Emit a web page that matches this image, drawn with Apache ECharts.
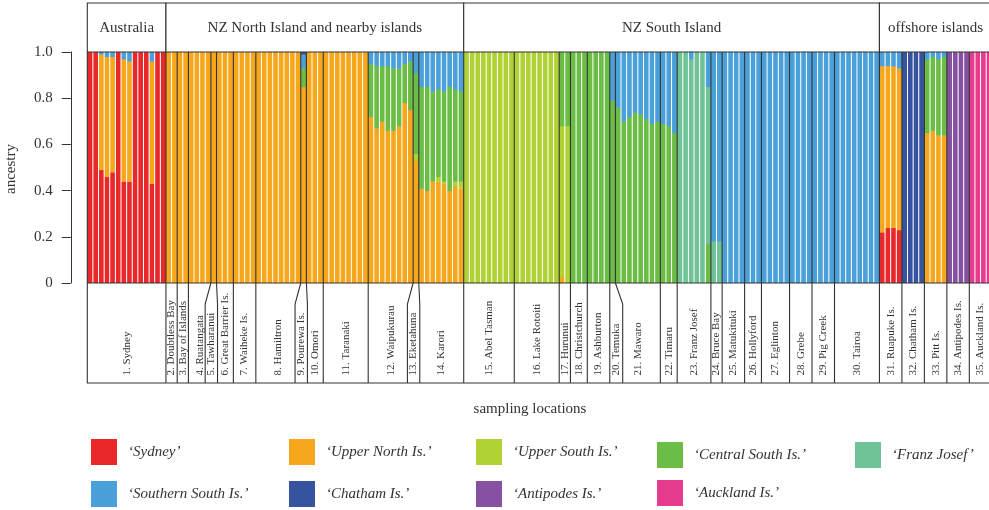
<!DOCTYPE html>
<html><head><meta charset="utf-8">
<script src="https://cdn.jsdelivr.net/npm/echarts@6/dist/echarts.min.js"></script>
<style>html,body{margin:0;padding:0;background:#fff}#chart{width:989px;height:510px}</style>
</head><body><div id="chart"></div>
<script>
// ---------------- data ----------------
const clusters = ['Sydney', 'Upper North Is.', 'Upper South Is.', 'Central South Is.', 'Franz Josef',
  'Southern South Is.', 'Chatham Is.', 'Antipodes Is.', 'Auckland Is.'];

const regions = ['Australia', 'NZ North Island and nearby islands', 'NZ South Island', 'offshore islands'];
const regionPopCounts = [1, 13, 16, 5];

const populations = ['1. Sydney', '2. Doubtless Bay', '3. Bay of Islands', '4. Ruatangata', '5. Tawharanui',
  '6. Great Barrier Is.', '7. Waiheke Is.', '8. Hamiltron', '9. Pourewa Is.', '10. Omori', '11. Taranaki',
  '12. Waipukurau', '13. Eketahuna', '14. Karori', '15. Abel Tasman', '16. Lake Rotoiti', '17. Hurunui',
  '18. Christchurch', '19. Ashburton', '20. Temuka', '21. Mawaro', '22. Timaru', '23. Franz Josef',
  '24. Bruce Bay', '25. Matukituki', '26. Hollyford', '27. Eglinton', '28. Grebe', '29. Pig Creek',
  '30. Tairoa', '31. Ruapuke Is.', '32. Chatham Is.', '33. Pitt Is.', '34. Antipodes Is.', '35. Auckland Is.'];
const popSizes = [14, 2, 2, 4, 1, 3, 4, 8, 1, 3, 8, 8, 1, 8, 9, 8, 2, 3, 4, 1, 8, 3, 6, 2, 4, 3, 5, 4, 4, 8, 4, 4, 4, 4, 4];

// ancestry proportion of every individual, one array per cluster (individuals in population order)
const qSydney = [
  1, 1, .49, .46, .48, 1, .44, .44, 1, 1, 1, .43, 1, 1,                         // 1
  0, 0, 0, 0, 0, 0, 0, 0, 0, 0, 0, 0, 0, 0, 0, 0, 0, 0, 0, 0, 0, 0, 0, 0,       // 2-8
  0,                                                                            // 9
  0, 0, 0, 0, 0, 0, 0, 0, 0, 0, 0,                                              // 10-11
  0, 0, 0, 0, 0, 0, 0, 0,                                                       // 12
  0,                                                                            // 13
  0, 0, 0, 0, 0, 0, 0, 0,                                                       // 14
  0, 0, 0, 0, 0, 0, 0, 0, 0, 0, 0, 0, 0, 0, 0, 0, 0,                            // 15-16
  0, 0,                                                                         // 17
  0, 0, 0, 0, 0, 0, 0,                                                          // 18-19
  0,                                                                            // 20
  0, 0, 0, 0, 0, 0, 0, 0,                                                       // 21
  0, 0, 0,                                                                      // 22
  0, 0, 0, 0, 0, 0,                                                             // 23
  0, 0,                                                                         // 24
  0, 0, 0, 0, 0, 0, 0, 0, 0, 0, 0, 0, 0, 0, 0, 0, 0, 0, 0, 0, 0, 0, 0, 0, 0, 0, 0, 0, // 25-30
  .22, .24, .24, .23,                                                           // 31
  0, 0, 0, 0,                                                                   // 32
  0, 0, 0, 0,                                                                   // 33
  0, 0, 0, 0,                                                                   // 34
  0, 0, 0, 0                                                                    // 35
];
const qUpperNorth = [
  0, 0, .50, .52, .50, 0, .53, .52, 0, 0, 0, .53, 0, 0,                         // 1
  1, 1, 1, 1, 1, 1, 1, 1, 1, 1, 1, 1, 1, 1, 1, 1, 1, 1, 1, 1, 1, 1, 1, 1,       // 2-8
  .85,                                                                          // 9
  1, 1, 1, 1, 1, 1, 1, 1, 1, 1, 1,                                              // 10-11
  .72, .67, .70, .66, .66, .68, .78, .75,                                       // 12
  .53,                                                                          // 13
  .41, .40, .44, .44, .43, .40, .42, .41,                                       // 14
  0, 0, 0, 0, 0, 0, 0, 0, 0, 0, 0, 0, 0, 0, 0, 0, 0,                            // 15-16
  .03, 0,                                                                       // 17
  0, 0, 0, 0, 0, 0, 0,                                                          // 18-19
  0,                                                                            // 20
  0, 0, 0, 0, 0, 0, 0, 0,                                                       // 21
  0, 0, 0,                                                                      // 22
  0, 0, 0, 0, 0, 0,                                                             // 23
  0, 0,                                                                         // 24
  0, 0, 0, 0, 0, 0, 0, 0, 0, 0, 0, 0, 0, 0, 0, 0, 0, 0, 0, 0, 0, 0, 0, 0, 0, 0, 0, 0, // 25-30
  .72, .70, .70, .70,                                                           // 31
  0, 0, 0, 0,                                                                   // 32
  .65, .66, .64, .64,                                                           // 33
  0, 0, 0, 0,                                                                   // 34
  0, 0, 0, 0                                                                    // 35
];
const qUpperSouth = [
  0, 0, 0, 0, 0, 0, 0, 0, 0, 0, 0, 0, 0, 0,                                     // 1
  0, 0, 0, 0, 0, 0, 0, 0, 0, 0, 0, 0, 0, 0, 0, 0, 0, 0, 0, 0, 0, 0, 0, 0,       // 2-8
  0,                                                                            // 9
  0, 0, 0, 0, 0, 0, 0, 0, 0, 0, 0,                                              // 10-11
  0, 0, 0, 0, 0, 0, 0, 0,                                                       // 12
  .03,                                                                          // 13
  0, 0, 0, .02, .01, 0, .02, .03,                                               // 14
  1, 1, 1, 1, 1, 1, 1, 1, 1, 1, 1, 1, 1, 1, 1, 1, 1,                            // 15-16
  .65, .68,                                                                     // 17
  0, 0, 0, 0, 0, 0, 0,                                                          // 18-19
  0,                                                                            // 20
  0, 0, 0, 0, 0, 0, 0, 0,                                                       // 21
  0, 0, 0,                                                                      // 22
  0, 0, 0, 0, 0, 0,                                                             // 23
  0, 0,                                                                         // 24
  0, 0, 0, 0, 0, 0, 0, 0, 0, 0, 0, 0, 0, 0, 0, 0, 0, 0, 0, 0, 0, 0, 0, 0, 0, 0, 0, 0, // 25-30
  0, 0, 0, 0,                                                                   // 31
  0, 0, 0, 0,                                                                   // 32
  0, 0, 0, 0,                                                                   // 33
  0, 0, 0, 0,                                                                   // 34
  0, 0, 0, 0                                                                    // 35
];
const qCentralSouth = [
  0, 0, 0, 0, 0, 0, 0, 0, 0, 0, 0, 0, 0, 0,                                     // 1
  0, 0, 0, 0, 0, 0, 0, 0, 0, 0, 0, 0, 0, 0, 0, 0, 0, 0, 0, 0, 0, 0, 0, 0,       // 2-8
  .08,                                                                          // 9
  0, 0, 0, 0, 0, 0, 0, 0, 0, 0, 0,                                              // 10-11
  .23, .27, .24, .28, .27, .25, .17, .21,                                       // 12
  .35,                                                                          // 13
  .44, .45, .39, .38, .39, .45, .40, .39,                                       // 14
  0, 0, 0, 0, 0, 0, 0, 0, 0, 0, 0, 0, 0, 0, 0, 0, 0,                            // 15-16
  .32, .32,                                                                     // 17
  1, 1, 1, 1, 1, 1, 1,                                                          // 18-19
  .79,                                                                          // 20
  .76, .70, .72, .74, .73, .71, .69, .70,                                       // 21
  .69, .68, .65,                                                                // 22
  0, 0, 0, 0, 0, .17,                                                           // 23
  0, 0,                                                                         // 24
  0, 0, 0, 0, 0, 0, 0, 0, 0, 0, 0, 0, 0, 0, 0, 0, 0, 0, 0, 0, 0, 0, 0, 0, 0, 0, 0, 0, // 25-30
  0, 0, 0, 0,                                                                   // 31
  0, 0, 0, 0,                                                                   // 32
  .32, .32, .33, .34,                                                           // 33
  0, 0, 0, 0,                                                                   // 34
  0, 0, 0, 0                                                                    // 35
];
const qFranzJosef = [
  0, 0, 0, 0, 0, 0, 0, 0, 0, 0, 0, 0, 0, 0,                                     // 1
  0, 0, 0, 0, 0, 0, 0, 0, 0, 0, 0, 0, 0, 0, 0, 0, 0, 0, 0, 0, 0, 0, 0, 0,       // 2-8
  0,                                                                            // 9
  0, 0, 0, 0, 0, 0, 0, 0, 0, 0, 0,                                              // 10-11
  0, 0, 0, 0, 0, 0, 0, 0,                                                       // 12
  0,                                                                            // 13
  0, 0, 0, 0, 0, 0, 0, 0,                                                       // 14
  0, 0, 0, 0, 0, 0, 0, 0, 0, 0, 0, 0, 0, 0, 0, 0, 0,                            // 15-16
  0, 0,                                                                         // 17
  0, 0, 0, 0, 0, 0, 0,                                                          // 18-19
  0,                                                                            // 20
  0, 0, 0, 0, 0, 0, 0, 0,                                                       // 21
  0, 0, 0,                                                                      // 22
  1, 1, .97, 1, 1, .68,                                                         // 23
  .18, .18,                                                                     // 24
  0, 0, 0, 0, 0, 0, 0, 0, 0, 0, 0, 0, 0, 0, 0, 0, 0, 0, 0, 0, 0, 0, 0, 0, 0, 0, 0, 0, // 25-30
  0, 0, 0, 0,                                                                   // 31
  0, 0, 0, 0,                                                                   // 32
  0, 0, 0, 0,                                                                   // 33
  0, 0, 0, 0,                                                                   // 34
  0, 0, 0, 0                                                                    // 35
];
const qSouthernSouth = [
  0, 0, .01, .02, .02, 0, .03, .04, 0, 0, 0, .04, 0, 0,                         // 1
  0, 0, 0, 0, 0, 0, 0, 0, 0, 0, 0, 0, 0, 0, 0, 0, 0, 0, 0, 0, 0, 0, 0, 0,       // 2-8
  .06,                                                                          // 9
  0, 0, 0, 0, 0, 0, 0, 0, 0, 0, 0,                                              // 10-11
  .05, .06, .06, .06, .07, .07, .05, .04,                                       // 12
  .09,                                                                          // 13
  .15, .15, .17, .16, .17, .15, .16, .17,                                       // 14
  0, 0, 0, 0, 0, 0, 0, 0, 0, 0, 0, 0, 0, 0, 0, 0, 0,                            // 15-16
  0, 0,                                                                         // 17
  0, 0, 0, 0, 0, 0, 0,                                                          // 18-19
  .21,                                                                          // 20
  .24, .30, .28, .26, .27, .29, .31, .30,                                       // 21
  .31, .32, .35,                                                                // 22
  0, 0, .03, 0, 0, .15,                                                         // 23
  .82, .82,                                                                     // 24
  1, 1, 1, 1, 1, 1, 1, 1, 1, 1, 1, 1, 1, 1, 1, 1, 1, 1, 1, 1, 1, 1, 1, 1, 1, 1, 1, 1, // 25-30
  .06, .06, .06, .07,                                                           // 31
  0, 0, 0, 0,                                                                   // 32
  .03, .02, .03, .02,                                                           // 33
  0, 0, 0, 0,                                                                   // 34
  0, 0, 0, 0                                                                    // 35
];
const qChatham = [
  0, 0, 0, 0, 0, 0, 0, 0, 0, 0, 0, 0, 0, 0,                                     // 1
  0, 0, 0, 0, 0, 0, 0, 0, 0, 0, 0, 0, 0, 0, 0, 0, 0, 0, 0, 0, 0, 0, 0, 0,       // 2-8
  .01,                                                                          // 9
  0, 0, 0, 0, 0, 0, 0, 0, 0, 0, 0,                                              // 10-11
  0, 0, 0, 0, 0, 0, 0, 0,                                                       // 12
  0,                                                                            // 13
  0, 0, 0, 0, 0, 0, 0, 0,                                                       // 14
  0, 0, 0, 0, 0, 0, 0, 0, 0, 0, 0, 0, 0, 0, 0, 0, 0,                            // 15-16
  0, 0,                                                                         // 17
  0, 0, 0, 0, 0, 0, 0,                                                          // 18-19
  0,                                                                            // 20
  0, 0, 0, 0, 0, 0, 0, 0,                                                       // 21
  0, 0, 0,                                                                      // 22
  0, 0, 0, 0, 0, 0,                                                             // 23
  0, 0,                                                                         // 24
  0, 0, 0, 0, 0, 0, 0, 0, 0, 0, 0, 0, 0, 0, 0, 0, 0, 0, 0, 0, 0, 0, 0, 0, 0, 0, 0, 0, // 25-30
  0, 0, 0, 0,                                                                   // 31
  1, 1, 1, 1,                                                                   // 32
  0, 0, 0, 0,                                                                   // 33
  0, 0, 0, 0,                                                                   // 34
  0, 0, 0, 0                                                                    // 35
];
const qAntipodes = [
  0, 0, 0, 0, 0, 0, 0, 0, 0, 0, 0, 0, 0, 0,                                     // 1
  0, 0, 0, 0, 0, 0, 0, 0, 0, 0, 0, 0, 0, 0, 0, 0, 0, 0, 0, 0, 0, 0, 0, 0,       // 2-8
  0,                                                                            // 9
  0, 0, 0, 0, 0, 0, 0, 0, 0, 0, 0,                                              // 10-11
  0, 0, 0, 0, 0, 0, 0, 0,                                                       // 12
  0,                                                                            // 13
  0, 0, 0, 0, 0, 0, 0, 0,                                                       // 14
  0, 0, 0, 0, 0, 0, 0, 0, 0, 0, 0, 0, 0, 0, 0, 0, 0,                            // 15-16
  0, 0,                                                                         // 17
  0, 0, 0, 0, 0, 0, 0,                                                          // 18-19
  0,                                                                            // 20
  0, 0, 0, 0, 0, 0, 0, 0,                                                       // 21
  0, 0, 0,                                                                      // 22
  0, 0, 0, 0, 0, 0,                                                             // 23
  0, 0,                                                                         // 24
  0, 0, 0, 0, 0, 0, 0, 0, 0, 0, 0, 0, 0, 0, 0, 0, 0, 0, 0, 0, 0, 0, 0, 0, 0, 0, 0, 0, // 25-30
  0, 0, 0, 0,                                                                   // 31
  0, 0, 0, 0,                                                                   // 32
  0, 0, 0, 0,                                                                   // 33
  1, 1, 1, 1,                                                                   // 34
  0, 0, 0, 0                                                                    // 35
];
const qAuckland = [
  0, 0, 0, 0, 0, 0, 0, 0, 0, 0, 0, 0, 0, 0,                                     // 1
  0, 0, 0, 0, 0, 0, 0, 0, 0, 0, 0, 0, 0, 0, 0, 0, 0, 0, 0, 0, 0, 0, 0, 0,       // 2-8
  0,                                                                            // 9
  0, 0, 0, 0, 0, 0, 0, 0, 0, 0, 0,                                              // 10-11
  0, 0, 0, 0, 0, 0, 0, 0,                                                       // 12
  0,                                                                            // 13
  0, 0, 0, 0, 0, 0, 0, 0,                                                       // 14
  0, 0, 0, 0, 0, 0, 0, 0, 0, 0, 0, 0, 0, 0, 0, 0, 0,                            // 15-16
  0, 0,                                                                         // 17
  0, 0, 0, 0, 0, 0, 0,                                                          // 18-19
  0,                                                                            // 20
  0, 0, 0, 0, 0, 0, 0, 0,                                                       // 21
  0, 0, 0,                                                                      // 22
  0, 0, 0, 0, 0, 0,                                                             // 23
  0, 0,                                                                         // 24
  0, 0, 0, 0, 0, 0, 0, 0, 0, 0, 0, 0, 0, 0, 0, 0, 0, 0, 0, 0, 0, 0, 0, 0, 0, 0, 0, 0, // 25-30
  0, 0, 0, 0,                                                                   // 31
  0, 0, 0, 0,                                                                   // 32
  0, 0, 0, 0,                                                                   // 33
  0, 0, 0, 0,                                                                   // 34
  1, 1, 1, 1                                                                    // 35
];
const yTicks = [0, 0.2, 0.4, 0.6, 0.8, 1.0];

// ---------------- style ----------------
const clusterColors = ['#E8282B', '#F7A71C', '#B1D235', '#6BBD45', '#6FC396', '#4AA0D9', '#3753A0', '#8651A1', '#E63B8F'];
const FONT = '"Liberation Serif", "Times New Roman", "DejaVu Serif", serif';
const INK = '#333333';
const LW = 1.1;

// ---------------- derived ----------------
const qAll = [qSydney, qUpperNorth, qUpperSouth, qCentralSouth, qFranzJosef, qSouthernSouth, qChatham, qAntipodes, qAuckland];
const N = popSizes.reduce((a, b) => a + b, 0);
qAll.forEach((arr, i) => { if (arr.length !== N) throw new Error('length mismatch ' + clusters[i] + ': ' + arr.length + ' vs ' + N); });
for (let j = 0; j < N; j++) {
  let s = 0; qAll.forEach(a => { s += a[j]; });
  if (Math.abs(s - 1) > 0.015) throw new Error('row sum ' + j + ' = ' + s);
}
const popBounds = [0];
popSizes.forEach(n => popBounds.push(popBounds[popBounds.length - 1] + n));
const regionBounds = [0];
let pcount = 0;
regionPopCounts.forEach(c => { pcount += c; regionBounds.push(popBounds[pcount]); });

// stacked segments per cluster: [individual index, lower, upper]
const segments = qAll.map((arr, c) => {
  const out = [];
  arr.forEach((v, i) => {
    if (v <= 0) return;
    let lo = 0; for (let k = 0; k < c; k++) lo += qAll[k][i];
    out.push([i, lo, lo + v]);
  });
  return out;
});

// label slots: single-individual populations borrow room from the larger neighbour
const slotBottom = popBounds.slice();
popSizes.forEach((n, p) => {
  if (n !== 1) return;
  const left = popSizes[p - 1] || 0, right = popSizes[p + 1] || 0;
  if (left >= right) { slotBottom[p] -= 1.02; slotBottom[p + 1] += 0.18; }
  else { slotBottom[p + 1] += 1.3; }
});

function xOf(api, u) { return api.coord([u, 0])[0]; }

const IND_W = 5.618;
const GRID_LEFT = 87.3;
const GRID_W = N * IND_W;

const chart = echarts.init(document.getElementById('chart'), null, { renderer: 'canvas', width: 989, height: 510 });

const barSeries = clusters.map((c, ci) => ({
  name: c, type: 'custom', xAxisIndex: 1, yAxisIndex: 1, silent: true, z: 2,
  itemStyle: { color: clusterColors[ci] },
  encode: { x: 0, y: [1, 2] },
  data: segments[ci],
  renderItem(params, api) {
    const i = api.value(0);
    const x0 = api.coord([i, 0])[0], x1 = api.coord([i + 1, 0])[0];
    const yLo = api.coord([0, api.value(1)])[1], yHi = api.coord([0, api.value(2)])[1];
    return { type: 'rect', shape: { x: x0, y: yHi, width: x1 - x0, height: yLo - yHi + 0.4 },
      style: { fill: clusterColors[ci] } };
  }
}));

const xAxisBase = { type: 'value', min: 0, max: N, show: false };
const gridBase = { left: GRID_LEFT, width: GRID_W, containLabel: false, outerBoundsMode: 'none' };

const legendBase = {
  orient: 'vertical', icon: 'rect', itemWidth: 26, itemHeight: 26, padding: 0, selectedMode: false,
  formatter: n => '\u2018' + n + '\u2019',
  textStyle: { fontFamily: FONT, fontStyle: 'italic', fontSize: 15, color: INK, padding: [0, 0, 0, 6] }
};

const option = {
  animation: false,
  backgroundColor: '#fff',
  grid: [
    Object.assign({ top: 3, height: 49 }, gridBase),
    Object.assign({ top: 52, height: 231 }, gridBase),
    Object.assign({ top: 283, height: 100 }, gridBase)
  ],
  xAxis: [
    Object.assign({ gridIndex: 0 }, xAxisBase),
    Object.assign({ gridIndex: 1 }, xAxisBase),
    Object.assign({ gridIndex: 2 }, xAxisBase)
  ],
  yAxis: [
    { gridIndex: 0, type: 'value', min: 0, max: 1, show: false },
    {
      gridIndex: 1, type: 'value', min: 0, max: 1, interval: 0.2, offset: 16.5, position: 'left',
      axisLine: { show: true, onZero: false, lineStyle: { color: INK, width: 1 } },
      axisTick: { show: true, length: 9, lineStyle: { color: INK, width: 1 } },
      splitLine: { show: false },
      axisLabel: {
        margin: 18, fontFamily: FONT, fontSize: 15, color: INK,
        formatter: v => { const t = yTicks.find(x => Math.abs(x - v) < 1e-6); return t === 0 ? '0' : (t !== undefined ? t.toFixed(1) : ''); }
      }
    },
    { gridIndex: 2, type: 'value', min: 0, max: 1, show: false }
  ],
  legend: [
    Object.assign({ left: 91, top: 439, itemGap: 16, data: ['Sydney', 'Southern South Is.'] }, legendBase),
    Object.assign({ left: 289, top: 439, itemGap: 16, data: ['Upper North Is.', 'Chatham Is.'] }, legendBase),
    Object.assign({ left: 476, top: 439, itemGap: 16, data: ['Upper South Is.', 'Antipodes Is.'] }, legendBase),
    Object.assign({ left: 657, top: 442, itemGap: 12, data: ['Central South Is.', 'Auckland Is.'] }, legendBase),
    Object.assign({ left: 855, top: 442, itemGap: 12, data: ['Franz Josef'] }, legendBase)
  ],
  graphic: [
    { type: 'text', x: 530, y: 409, silent: true,
      style: { text: 'sampling locations', align: 'center', verticalAlign: 'middle', font: '15px ' + FONT, fill: INK } },
    { type: 'text', x: 11, y: 169, rotation: Math.PI / 2, silent: true,
      style: { text: 'ancestry', align: 'center', verticalAlign: 'middle', font: '15px ' + FONT, fill: INK } }
  ],
  series: barSeries.concat([
    { // white separators between individuals
      type: 'custom', xAxisIndex: 1, yAxisIndex: 1, silent: true, z: 5, clip: false,
      data: [[0, 0]],
      renderItem(params, api) {
        const yT = api.coord([0, 1])[1], yB = api.coord([0, 0])[1];
        const ch = [];
        for (let k = 1; k < N; k++) {
          if (popBounds.indexOf(k) >= 0) continue;
          const x = xOf(api, k);
          ch.push({ type: 'line', shape: { x1: x, y1: yT, x2: x, y2: yB }, style: { stroke: '#ffffff', lineWidth: 1 } });
        }
        return { type: 'group', children: ch };
      }
    },
    { // population boundaries over bars
      type: 'custom', xAxisIndex: 1, yAxisIndex: 1, silent: true, z: 10, clip: false,
      data: [[0, 0]],
      renderItem(params, api) {
        const yT = api.coord([0, 1])[1], yB = api.coord([0, 0])[1];
        const ch = popBounds.map(b => {
          const x = xOf(api, b);
          return { type: 'line', shape: { x1: x, y1: yT, x2: x, y2: yB }, style: { stroke: INK, lineWidth: LW } };
        });
        return { type: 'group', children: ch };
      }
    },
    { // region header boxes
      type: 'custom', xAxisIndex: 0, yAxisIndex: 0, silent: true, z: 10, clip: false,
      data: regions.map((r, i) => [regionBounds[i], 0]),
      renderItem(params, api) {
        const i = params.dataIndex;
        const x0 = xOf(api, regionBounds[i]), x1 = xOf(api, regionBounds[i + 1]);
        const yT = api.coord([0, 1])[1], yB = api.coord([0, 0])[1];
        return {
          type: 'group', children: [
            { type: 'rect', shape: { x: x0, y: yT, width: x1 - x0, height: yB - yT }, style: { fill: '#fff', stroke: INK, lineWidth: LW } },
            { type: 'text', x: (x0 + x1) / 2, y: (yT + yB) / 2 + 1, style: { text: regions[i], align: 'center', verticalAlign: 'middle', font: '15px ' + FONT, fill: INK } }
          ]
        };
      }
    },
    { // population label box
      type: 'custom', xAxisIndex: 2, yAxisIndex: 2, silent: true, z: 10, clip: false,
      data: [[0, 0]],
      renderItem(params, api) {
        const yT = api.coord([0, 1])[1], yB = api.coord([0, 0])[1];
        const yS = api.coord([0, 0.79])[1], yL = api.coord([0, 0.075])[1];
        const xl = xOf(api, 0), xr = xOf(api, N);
        const ch = [{ type: 'rect', shape: { x: xl, y: yT, width: xr - xl, height: yB - yT }, style: { fill: '#fff', stroke: INK, lineWidth: LW } }];
        for (let k = 1; k < popBounds.length - 1; k++) {
          const xt = xOf(api, popBounds[k]), xb = xOf(api, slotBottom[k]);
          ch.push({ type: 'polyline', shape: { points: [[xt, yT], [xb, yS], [xb, yB]] }, style: { stroke: INK, lineWidth: LW, fill: null } });
        }
        populations.forEach((name, p) => {
          const c = popSizes[p] === 1 ? (slotBottom[p] + slotBottom[p + 1]) / 2 : (popBounds[p] + popBounds[p + 1]) / 2;
          ch.push({ type: 'text', x: xOf(api, c), y: yL, rotation: Math.PI / 2,
            style: { text: name, align: 'left', verticalAlign: 'middle', font: '11px ' + FONT, fill: INK } });
        });
        return { type: 'group', children: ch };
      }
    }
  ])
};
chart.setOption(option);
</script>
</body></html>
